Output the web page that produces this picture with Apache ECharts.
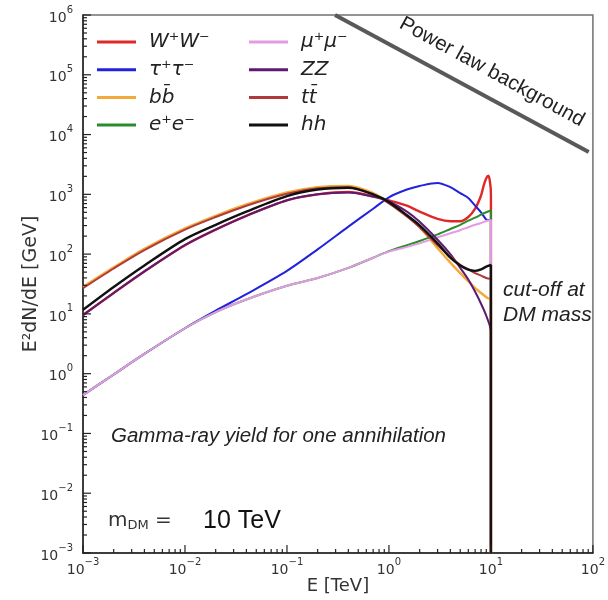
<!DOCTYPE html>
<html>
<head>
<meta charset="utf-8">
<script src="https://cdn.jsdelivr.net/npm/echarts@6/dist/echarts.min.js"></script>
<style>
  html, body { margin: 0; padding: 0; background: #fff; }
  #chart { width: 608px; height: 600px; }
</style>
</head>
<body>
<div id="chart"></div>
<script>
// Photon energy grid (TeV) shared by the smooth annihilation spectra
const energyTeV = [0.001, 0.002, 0.004, 0.01, 0.02, 0.04, 0.1, 0.2, 0.4, 0.7, 1, 1.5, 2, 3, 4, 5, 6, 7, 8, 9, 10];

// E^2 dN/dE [GeV] per channel on energyTeV
const yieldBB  = [28.2, 60, 123, 269, 437, 676, 1072, 1318, 1380, 1047, 724, 437, 282, 126, 72, 48, 35, 27, 22.4, 19, 16.6];
const yieldTT  = [26.9, 57.5, 117, 257, 417, 646, 1023, 1259, 1318, 1000, 708, 427, 282, 141, 91, 66, 56, 48, 43.7, 39.8, 37.2];
const yieldHH  = [11.7, 28.2, 64.6, 178, 309, 513, 933, 1202, 1288, 1000, 741, 447, 302, 151, 87, 64.6, 55, 52.5, 55.6, 61.7, 66];
const yieldZZ  = [9.55, 22.4, 51.3, 141, 257, 437, 794, 1000, 1072, 912, 759, 513, 347, 174, 100, 59, 37.6, 23.4, 14.8, 9.3, 5.0];
const yieldTau = [0.437, 0.97, 2.14, 5.75, 11.3, 21.4, 52.5, 120, 288, 575, 891, 1202, 1380, 1549, 1318, 1047, 871, 646, 501, 380, 363];
const yieldMu  = [0.437, 0.97, 2.14, 5.75, 10.7, 17.4, 29.5, 39.8, 58.9, 87, 110, 132, 151, 191, 224, 251, 282, 309, 331, 359, 372];
const yieldEE  = [0.437, 0.97, 2.14, 5.75, 10.7, 17.4, 29.5, 39.8, 58.9, 87, 112, 141, 166, 214, 263, 309, 363, 407, 457, 501, 537];

// W+W- has the sharp feature just below the DM mass, so it carries its own energies
const energyWW = [0.001, 0.002, 0.004, 0.01, 0.02, 0.04, 0.1, 0.2, 0.4, 0.7, 1, 1.5, 2, 3, 4, 5, 6, 7, 8, 8.5, 9, 9.45, 9.8, 10];
const yieldWW  = [9.55, 22.4, 51.3, 141, 257, 437, 794, 1000, 1096, 933, 794, 646, 513, 389, 355, 355, 417, 575, 955, 1413, 1862, 2042, 1585, 1000];

// Kinematic cut-off at the DM mass (TeV) and the floor of the plot
const dmMassTeV = 10;
const yFloor = 1e-3;

// Power-law background guide line (E [TeV], E^2 dN/dE [GeV])
const powerLawE = [0.296, 91];
const powerLawY = [1e6, 5100];

// Axis ranges and tick positions
const xRange = [1e-3, 1e2];
const yRange = [1e-3, 1e6];
const xDecades = [1e-3, 1e-2, 1e-1, 1, 10, 100];
const yDecades = [1e-3, 1e-2, 1e-1, 1, 10, 100, 1e3, 1e4, 1e5, 1e6];
const minorMultipliers = [2, 3, 4, 5, 6, 7, 8, 9];

const channels = [
  { name: 'W⁺W⁻', color: '#e02828', e: energyWW,  y: yieldWW,  w: 2.4 },
  { name: 'τ⁺τ⁻', color: '#2222dd', e: energyTeV, y: yieldTau, w: 2.0 },
  { name: 'bb̄',   color: '#f2aa3a', e: energyTeV, y: yieldBB,  w: 2.4 },
  { name: 'e⁺e⁻', color: '#2a8c2a', e: energyTeV, y: yieldEE,  w: 2.0 },
  { name: 'μ⁺μ⁻', color: '#e39be3', e: energyTeV, y: yieldMu,  w: 2.0 },
  { name: 'ZZ',   color: '#5e1a70', e: energyTeV, y: yieldZZ,  w: 2.0 },
  { name: 'tt̄',   color: '#b03a3a', e: energyTeV, y: yieldTT,  w: 2.0 },
  { name: 'hh',   color: '#111111', e: energyTeV, y: yieldHH,  w: 2.4 }
];

// Power-of-ten tick labels with a raised exponent
function powLabel(v) {
  const ex = Math.round(Math.log10(v));
  return '{b|10}{s|' + (ex < 0 ? '−' + (-ex) : ex) + '}';
}
const powRich = {
  b: { fontFamily: 'DejaVu Sans', fontSize: 14, color: '#333', lineHeight: 20, verticalAlign: 'bottom' },
  s: { fontFamily: 'DejaVu Sans', fontSize: 10, color: '#333', lineHeight: 20, verticalAlign: 'top' }
};

// Major and minor tick values on each log axis
const xMajor = xDecades.slice();
const yMajor = yDecades.slice();
const xMinor = [];
xDecades.slice(0, -1).forEach(d => minorMultipliers.forEach(m => xMinor.push(d * m)));
const yMinor = [];
yDecades.slice(0, -1).forEach(d => minorMultipliers.forEach(m => yMinor.push(d * m)));

// Inward tick marks drawn with the axes' own coordinate mapping
function xTickSeries(values, len) {
  return {
    type: 'custom', silent: true, z: 6,
    data: values.map(v => [v, yRange[0]]),
    renderItem: (params, api) => {
      const p = api.coord([api.value(0), api.value(1)]);
      return { type: 'line', shape: { x1: p[0], y1: p[1], x2: p[0], y2: p[1] - len },
               style: { stroke: '#222', lineWidth: 1.2 } };
    }
  };
}
function yTickSeries(values, len) {
  return {
    type: 'custom', silent: true, z: 6,
    data: values.map(v => [xRange[0], v]),
    renderItem: (params, api) => {
      const p = api.coord([api.value(0), api.value(1)]);
      return { type: 'line', shape: { x1: p[0], y1: p[1], x2: p[0] + len, y2: p[1] },
               style: { stroke: '#222', lineWidth: 1.2 } };
    }
  };
}

const lineSeries = channels.map(c => {
  const pts = c.e.map((e, i) => [e, c.y[i]]);
  pts.push([dmMassTeV, yFloor]);
  return {
    name: c.name,
    type: 'line',
    data: pts,
    smooth: 0.3,
    symbol: 'none',
    lineStyle: { color: c.color, width: c.w },
    itemStyle: { color: c.color },
    z: 3
  };
});

const powerLawSeries = {
  type: 'line', silent: true, symbol: 'none', z: 2,
  data: powerLawE.map((e, i) => [e, powerLawY[i]]),
  lineStyle: { color: '#595959', width: 4 }
};

const legendText = {
  fontFamily: 'DejaVu Sans', fontStyle: 'italic', fontSize: 20, color: '#222',
  lineHeight: 20, padding: [0, 0, 0, 8]
};
const legendBase = {
  orient: 'vertical', top: 32, padding: 0, icon: 'rect', itemWidth: 39, itemHeight: 3,
  itemGap: 7.7, textStyle: legendText, selectedMode: false
};

const annoFont = '"Liberation Sans"';

const chart = echarts.init(document.getElementById('chart'), null, { renderer: 'canvas' });
chart.setOption({
  animation: false,
  backgroundColor: '#fff',
  grid: { left: 83, right: 11, top: 15, bottom: 43, show: true, borderColor: '#707070', borderWidth: 1.5 },
  legend: [
    Object.assign({ left: 97, data: channels.slice(0, 4).map(c => c.name) }, legendBase),
    Object.assign({ left: 249, data: channels.slice(4).map(c => c.name) }, legendBase)
  ],
  xAxis: {
    type: 'log', logBase: 10, min: xRange[0], max: xRange[1],
    name: 'E [TeV]', nameLocation: 'middle', nameGap: 24, nameMoveOverlap: false,
    nameTextStyle: { fontFamily: 'DejaVu Sans', fontSize: 18, color: '#333' },
    axisLine: { lineStyle: { color: '#222', width: 1.5 } },
    axisTick: { show: false },
    axisLabel: { formatter: powLabel, rich: powRich, margin: 4 },
    splitLine: { show: false }
  },
  yAxis: {
    type: 'log', logBase: 10, min: yRange[0], max: yRange[1],
    name: 'E²dN/dE [GeV]', nameLocation: 'middle', nameGap: 40, nameMoveOverlap: false,
    nameTextStyle: { fontFamily: 'DejaVu Sans', fontSize: 19, color: '#333', lineHeight: 24 },
    axisLine: { lineStyle: { color: '#222', width: 1.5 } },
    axisTick: { show: false },
    axisLabel: { formatter: powLabel, rich: powRich, margin: 10 },
    splitLine: { show: false }
  },
  graphic: [
    { type: 'text', x: 492, y: 72, rotation: -28.6 * Math.PI / 180, z: 10,
      style: { text: 'Power law background', font: '20.5px ' + annoFont, fill: '#222',
               align: 'center', verticalAlign: 'middle' } },
    { type: 'text', x: 503, y: 290, z: 10,
      style: { text: 'cut-off at', font: 'italic 21px ' + annoFont, fill: '#222', verticalAlign: 'middle' } },
    { type: 'text', x: 503, y: 315, z: 10,
      style: { text: 'DM mass', font: 'italic 21px ' + annoFont, fill: '#222', verticalAlign: 'middle' } },
    { type: 'text', x: 111, y: 436, z: 10,
      style: { text: 'Gamma-ray yield for one annihilation', font: 'italic 20.5px ' + annoFont, fill: '#222', verticalAlign: 'middle' } },
    { type: 'text', x: 108, y: 521, z: 10,
      style: { text: '{m|m}{s|DM}{m| =}', fill: '#333', verticalAlign: 'middle',
               rich: { m: { fontFamily: 'DejaVu Sans', fontSize: 20, fill: '#333' },
                       s: { fontFamily: 'DejaVu Sans', fontSize: 13, fill: '#333', padding: [10, 0, 0, 0] } } } },
    { type: 'text', x: 203, y: 521, z: 10,
      style: { text: '10 TeV', font: '25px ' + annoFont, fill: '#111', verticalAlign: 'middle' } }
  ],
  series: [powerLawSeries].concat(lineSeries, [
    xTickSeries(xMajor, 8), xTickSeries(xMinor, 4),
    yTickSeries(yMajor, 8), yTickSeries(yMinor, 4)
  ])
});
</script>
</body>
</html>
